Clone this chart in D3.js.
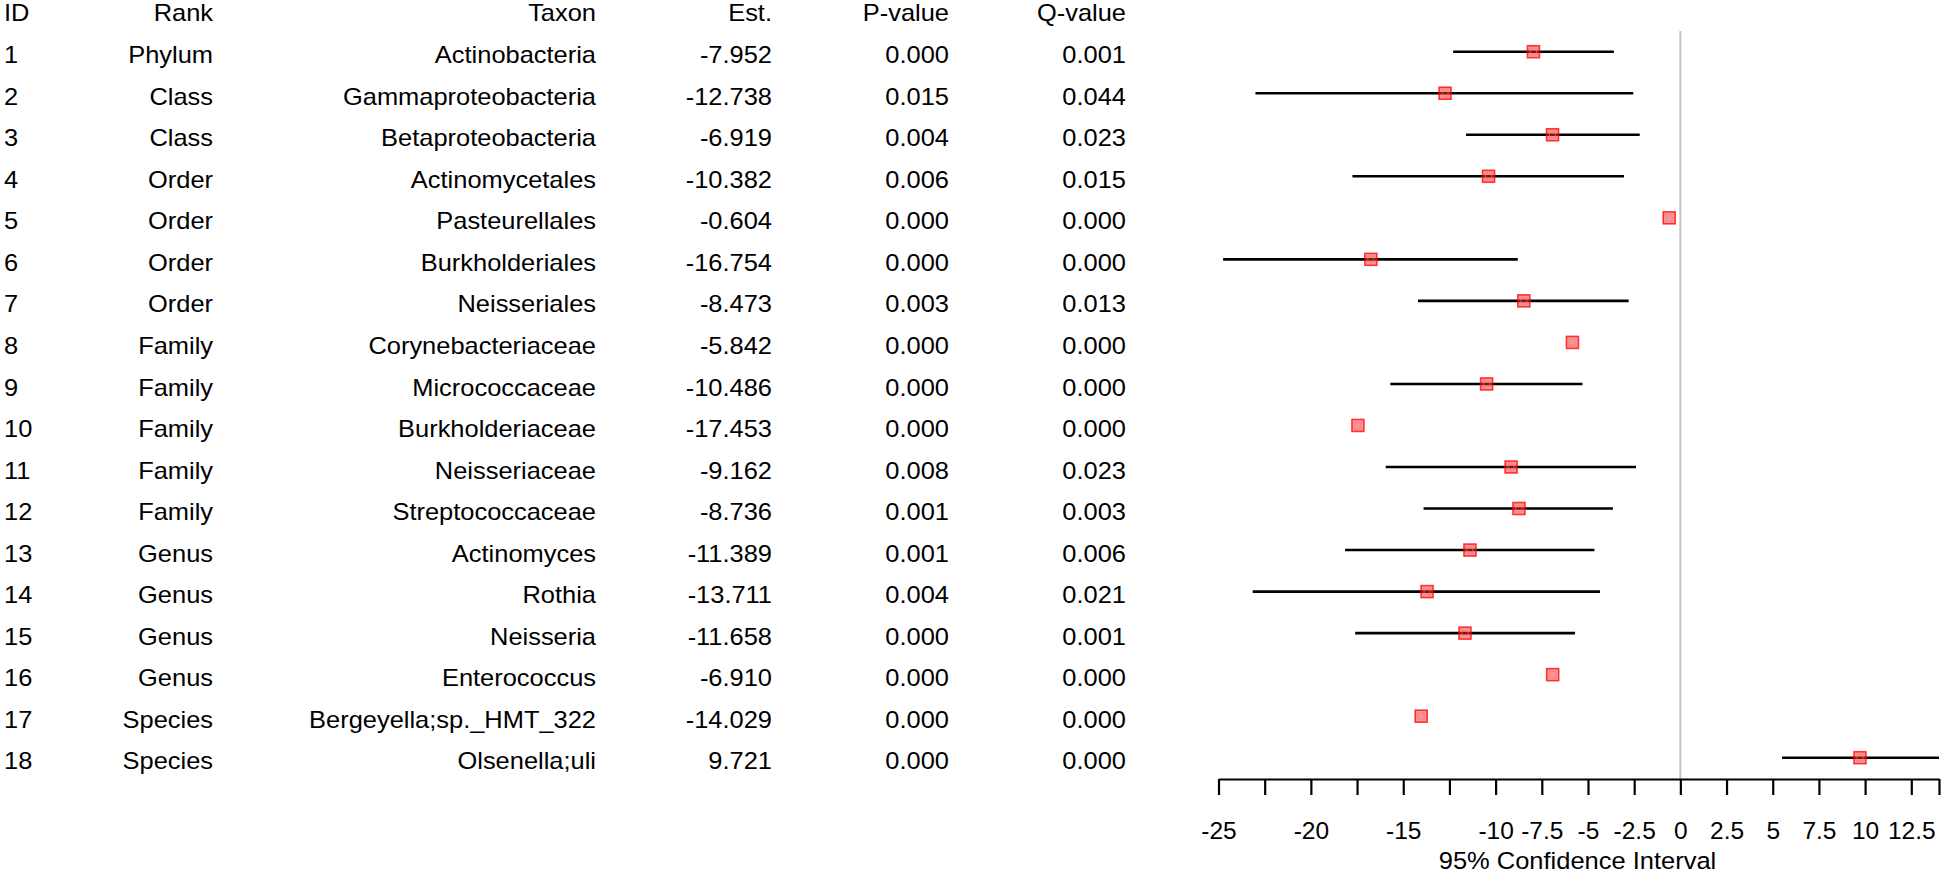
<!DOCTYPE html>
<html>
<head>
<meta charset="utf-8">
<script src="https://cdn.jsdelivr.net/npm/d3@7"></script>
<style>
  html, body { margin: 0; padding: 0; background: #fff; }
  svg { display: block; }
  text { font-family: "Liberation Sans", Arial, sans-serif; fill: #000; }
</style>
</head>
<body>
<svg id="chart" width="1943" height="874"></svg>
<script>
// ---- data ----
const ids = [1,2,3,4,5,6,7,8,9,10,11,12,13,14,15,16,17,18];
const ranks = ["Phylum","Class","Class","Order","Order","Order","Order","Family","Family","Family","Family","Family","Genus","Genus","Genus","Genus","Species","Species"];
const taxa = ["Actinobacteria","Gammaproteobacteria","Betaproteobacteria","Actinomycetales","Pasteurellales","Burkholderiales","Neisseriales","Corynebacteriaceae","Micrococcaceae","Burkholderiaceae","Neisseriaceae","Streptococcaceae","Actinomyces","Rothia","Neisseria","Enterococcus","Bergeyella;sp._HMT_322","Olsenella;uli"];
const estimates = [-7.952,-12.738,-6.919,-10.382,-0.604,-16.754,-8.473,-5.842,-10.486,-17.453,-9.162,-8.736,-11.389,-13.711,-11.658,-6.910,-14.029,9.721];
const pValues = ["0.000","0.015","0.004","0.006","0.000","0.000","0.003","0.000","0.000","0.000","0.008","0.001","0.001","0.004","0.000","0.000","0.000","0.000"];
const qValues = ["0.001","0.044","0.023","0.015","0.000","0.000","0.013","0.000","0.000","0.000","0.023","0.003","0.006","0.021","0.001","0.000","0.000","0.000"];
const ciLower = [-12.3,-23.0,-11.6,-17.75,null,-24.75,-14.2,null,-15.7,null,-15.95,-13.9,-18.15,-23.15,-17.6,null,null,5.5];
const ciUpper = [-3.6,-2.55,-2.2,-3.05,null,-8.8,-2.8,null,-5.3,null,-2.4,-3.65,-4.65,-4.35,-5.7,null,null,14.0];
const headers = ["ID","Rank","Taxon","Est.","P-value","Q-value"];
const tickValues = [-25,-22.5,-20,-17.5,-15,-12.5,-10,-7.5,-5,-2.5,0,2.5,5,7.5,10,12.5,14];
const tickLabels = ["-25","","-20","","-15","","-10","-7.5","-5","-2.5","0","2.5","5","7.5","10","12.5",""];
const xDomain = [-25, 14];
const axisTitle = "95% Confidence Interval";

// ---- layout ----
const svg = d3.select("#chart");
const x = d3.scaleLinear().domain(xDomain).range([1218.5, 1939]);
const y = d3.scalePoint().domain(ids).range([51.7, 757.7]);
const axisY = 779;
const fs = 24;
const textDY = 11.6;

const columns = [
  { x: 4,    anchor: "start", get: (i) => String(ids[i]) },
  { x: 213,  anchor: "end",   get: (i) => ranks[i] },
  { x: 596,  anchor: "end",   get: (i) => taxa[i] },
  { x: 772,  anchor: "end",   get: (i) => estimates[i].toFixed(3) },
  { x: 949,  anchor: "end",   get: (i) => pValues[i] },
  { x: 1126, anchor: "end",   get: (i) => qValues[i] }
];

const table = svg.append("g").attr("class", "table");
columns.forEach((col, c) => {
  table.append("text")
    .attr("transform", `translate(${col.x},20.5) scale(1.06,1)`)
    .attr("text-anchor", col.anchor)
    .attr("font-size", fs)
    .text(headers[c]);
  table.selectAll(null)
    .data(ids)
    .enter()
    .append("text")
    .attr("transform", (d, i) => `translate(${col.x},${y(d) + textDY}) scale(1.06,1)`)
    .attr("text-anchor", col.anchor)
    .attr("font-size", fs)
    .text((d, i) => col.get(i));
});

// zero reference line
svg.append("line")
  .attr("x1", x(0)).attr("x2", x(0))
  .attr("y1", 31).attr("y2", axisY)
  .attr("stroke", "#c4c4c4")
  .attr("stroke-width", 2);

// confidence intervals
const rows = ids.map((d, i) => ({ id: d, est: estimates[i], lo: ciLower[i], hi: ciUpper[i] }));
svg.append("g").selectAll("line")
  .data(rows.filter(r => r.lo !== null))
  .enter()
  .append("line")
  .attr("x1", r => x(r.lo))
  .attr("x2", r => x(r.hi))
  .attr("y1", r => y(r.id))
  .attr("y2", r => y(r.id))
  .attr("stroke", "#000")
  .attr("stroke-width", 2.6);

// point estimates
const m = svg.append("g").selectAll("g")
  .data(rows)
  .enter()
  .append("g")
  .attr("transform", r => `translate(${x(r.est)},${y(r.id)})`);
m.append("rect")
  .attr("x", -6).attr("y", -6).attr("width", 12).attr("height", 12)
  .attr("fill", "rgba(255,40,40,0.5)")
  .attr("stroke", "rgba(255,0,0,0.75)")
  .attr("stroke-width", 1.6);
m.append("rect")
  .attr("x", -3).attr("y", -3).attr("width", 6).attr("height", 6)
  .attr("fill", "none")
  .attr("stroke", "rgba(255,120,120,0.6)")
  .attr("stroke-width", 1);

// axis
const axis = d3.axisBottom(x)
  .tickValues(tickValues)
  .tickFormat((d, i) => tickLabels[i])
  .tickSize(16)
  .tickSizeOuter(0)
  .tickPadding(27);
const ag = svg.append("g")
  .attr("transform", `translate(0,${axisY})`)
  .call(axis);
ag.select(".domain").attr("stroke", "#000").attr("stroke-width", 2.2);
ag.selectAll(".tick line").attr("stroke", "#000").attr("stroke-width", 2.2);
ag.selectAll(".tick text")
  .attr("font-family", "Liberation Sans, Arial, sans-serif")
  .attr("font-size", 24.5)
  .attr("fill", "#000");

svg.append("text")
  .attr("transform", `translate(${(1438 + 1717) / 2},869) scale(1.04,1)`)
  .attr("text-anchor", "middle")
  .attr("font-size", 24.5)
  .text(axisTitle);
</script>
</body>
</html>
